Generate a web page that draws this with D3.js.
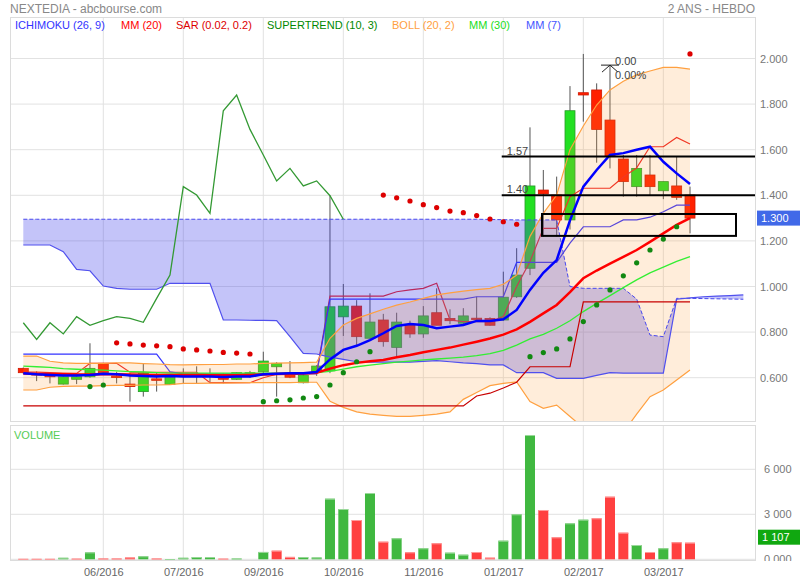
<!DOCTYPE html>
<html><head><meta charset="utf-8">
<script src="https://cdn.jsdelivr.net/npm/d3@7"></script>
<style>body{margin:0;background:#fff}svg{display:block;font-family:"Liberation Sans",Arial,sans-serif}</style>
</head><body><svg id="c" width="800" height="580"></svg>
<script>
// ---------- DATA (weekly candles, index 0..50) ----------
const tickIndex  = [6, 12, 18, 24, 30, 36, 42, 48];
const tickLabels = ["06/2016","07/2016","09/2016","10/2016","11/2016","01/2017","02/2017","03/2017"];
const priceTicks = [0.6, 0.8, 1.0, 1.2, 1.4, 1.6, 1.8, 2.0];
const volTicks   = [0, 3000, 6000];

const open  = [0.641,0.618,0.616,0.572,0.593,0.604,0.663,0.607,0.572,0.539,0.595,0.571,0.612,0.615,0.613,0.602,0.593,0.618,0.626,0.648,0.620,0.578,0.626,0.630,0.867,0.914,0.773,0.853,0.733,0.831,0.792,0.885,0.860,0.839,0.861,0.860,0.853,0.955,1.080,1.423,1.401,1.292,1.850,1.862,1.730,1.559,1.438,1.489,1.420,1.441,1.401];
const high  = [0.645,0.628,0.622,0.606,0.606,0.751,0.665,0.626,0.620,0.663,0.620,0.604,0.641,0.650,0.641,0.620,0.625,0.630,0.714,0.668,0.673,0.615,0.655,1.400,1.011,0.940,0.970,0.880,0.885,0.850,0.914,0.992,0.900,0.905,0.955,0.865,1.065,1.168,1.698,1.511,1.482,1.879,2.020,1.891,1.971,1.577,1.577,1.577,1.460,1.569,1.438];
const low   = [0.618,0.585,0.575,0.570,0.572,0.600,0.620,0.575,0.495,0.517,0.539,0.568,0.576,0.576,0.576,0.575,0.590,0.600,0.620,0.517,0.598,0.575,0.608,0.620,0.783,0.743,0.770,0.736,0.692,0.775,0.775,0.830,0.835,0.835,0.855,0.828,0.850,0.950,1.050,1.218,1.220,1.250,1.723,1.543,1.518,1.394,1.394,1.400,1.383,1.380,1.233];
const close = [0.622,0.612,0.604,0.604,0.604,0.641,0.622,0.602,0.561,0.620,0.593,0.602,0.615,0.613,0.610,0.593,0.622,0.622,0.673,0.663,0.602,0.611,0.651,0.911,0.914,0.780,0.844,0.758,0.844,0.792,0.871,0.830,0.850,0.871,0.860,0.830,0.953,1.050,1.441,1.406,1.292,1.771,1.840,1.689,1.572,1.460,1.518,1.438,1.460,1.391,1.300];

const volume = [30,30,30,100,40,460,50,50,120,200,50,20,100,150,150,40,50,0,490,575,160,150,120,4040,3353,2620,4420,1173,1400,467,733,1067,440,307,487,107,1240,3000,8287,3287,1467,2400,2640,2733,4173,1773,953,487,733,1133,1107];
const volUp  = [0,0,0,1,0,1,0,0,0,1,0,1,1,1,1,0,1,1,1,0,0,1,1,1,1,0,1,0,1,0,1,0,1,1,0,0,1,1,1,0,0,1,1,0,0,0,1,0,1,0,0];

const mm7  = [0.620,0.615,0.612,0.610,0.610,0.612,0.617,0.615,0.610,0.607,0.605,0.607,0.605,0.605,0.605,0.603,0.605,0.605,0.615,0.617,0.620,0.620,0.625,0.680,0.722,0.740,0.765,0.795,0.827,0.836,0.831,0.817,0.824,0.831,0.849,0.849,0.856,0.897,0.985,1.060,1.116,1.290,1.438,1.511,1.577,1.585,1.600,1.613,1.547,1.496,1.450];
const mm20 = [0.618,0.617,0.616,0.615,0.614,0.614,0.615,0.615,0.614,0.613,0.612,0.612,0.612,0.612,0.611,0.611,0.611,0.612,0.614,0.616,0.617,0.618,0.622,0.640,0.655,0.665,0.672,0.678,0.690,0.700,0.712,0.722,0.732,0.745,0.758,0.772,0.789,0.812,0.845,0.882,0.919,0.975,1.036,1.070,1.100,1.130,1.160,1.196,1.233,1.270,1.300];
const mm30 = [0.651,0.648,0.645,0.640,0.637,0.635,0.633,0.630,0.627,0.625,0.622,0.620,0.620,0.620,0.620,0.620,0.620,0.620,0.620,0.620,0.620,0.621,0.622,0.628,0.638,0.648,0.655,0.662,0.668,0.673,0.678,0.682,0.686,0.690,0.697,0.706,0.720,0.743,0.770,0.790,0.817,0.850,0.890,0.926,0.960,0.995,1.029,1.060,1.085,1.110,1.131];
const bollUp  = [0.695,0.695,0.672,0.665,0.663,0.663,0.663,0.665,0.665,0.662,0.660,0.657,0.656,0.657,0.658,0.658,0.660,0.660,0.663,0.664,0.665,0.666,0.668,0.773,0.831,0.860,0.880,0.900,0.918,0.932,0.948,0.963,0.972,0.980,0.986,0.992,1.010,1.050,1.220,1.321,1.401,1.600,1.704,1.796,1.862,1.900,1.928,1.945,1.961,1.961,1.953];
const bollLow = [0.546,0.546,0.558,0.562,0.563,0.563,0.565,0.566,0.566,0.568,0.568,0.570,0.575,0.575,0.576,0.576,0.577,0.578,0.578,0.578,0.578,0.580,0.580,0.497,0.470,0.450,0.440,0.435,0.430,0.430,0.435,0.440,0.450,0.505,0.535,0.565,0.575,0.582,0.495,0.466,0.480,0.430,0.380,0.350,0.340,0.360,0.440,0.517,0.546,0.590,0.634];

// Ichimoku (cloud extends 4 weeks ahead: index 0..54)
const spanA = [1.295,1.295,1.295,1.295,1.295,1.295,1.295,1.295,1.295,1.295,1.295,1.295,1.295,1.295,1.295,1.295,1.295,1.295,1.295,1.295,1.295,1.295,1.295,1.295,1.295,1.295,1.295,1.295,1.295,1.295,1.295,1.295,1.295,1.295,1.295,1.294,1.293,1.292,1.292,1.292,1.292,1.000,0.992,0.992,0.992,0.992,0.945,0.787,0.780,0.948,0.948,0.947,0.946,0.945,0.944];
const spanB = [1.182,1.182,1.182,1.153,1.075,1.069,1.002,0.992,0.988,0.988,0.988,1.014,1.014,1.014,1.014,0.853,0.853,0.852,0.851,0.850,0.780,0.707,0.704,0.690,0.680,0.670,0.668,0.668,0.668,0.668,0.672,0.675,0.670,0.665,0.662,0.656,0.656,0.622,0.622,0.622,0.597,0.597,0.597,0.610,0.622,0.620,0.620,0.620,0.620,0.944,0.950,0.955,0.958,0.960,0.963];
const tenkan = [0.625,0.625,0.622,0.620,0.619,0.663,0.663,0.663,0.624,0.624,0.624,0.624,0.624,0.624,0.578,0.578,0.578,0.578,0.600,0.615,0.620,0.620,0.622,0.958,0.958,0.958,0.958,0.958,0.977,0.985,0.992,1.014,0.853,0.846,0.846,0.846,0.868,1.000,1.110,1.255,1.255,1.394,1.431,1.431,1.431,1.480,1.520,1.613,1.613,1.654,1.625];
const kijun  = [0.703,0.703,0.703,0.703,0.703,0.703,0.703,0.703,0.703,0.703,0.703,0.626,0.617,0.617,0.617,0.617,0.617,0.617,0.617,0.617,0.617,0.617,0.617,0.945,0.945,0.945,0.945,0.945,0.945,0.945,0.945,0.945,0.945,0.945,0.955,0.955,0.955,1.106,1.106,1.106,1.106,1.190,1.262,1.262,1.262,1.292,1.292,1.304,1.328,1.357,1.357];
const chikou = [0.841,0.768,0.841,0.792,0.868,0.830,0.850,0.868,0.860,0.843,0.948,1.050,1.438,1.401,1.321,1.771,1.840,1.689,1.577,1.463,1.518,1.441,1.463,1.398,1.295];

const sar = [null,null,null,null,null,0.561,0.568,0.753,0.748,0.743,0.740,0.736,0.726,0.722,0.717,0.711,0.708,0.704,0.495,0.499,0.503,0.511,0.517,0.568,0.622,0.670,0.714,1.401,1.389,1.375,1.359,1.346,1.331,1.324,1.311,1.296,1.284,1.273,0.692,0.710,0.726,0.770,0.846,0.919,0.985,1.047,1.104,1.160,1.208,1.262,2.020];
const supertrend = [0.476,0.476,0.476,0.476,0.476,0.476,0.476,0.476,0.476,0.476,0.476,0.476,0.476,0.476,0.476,0.476,0.476,0.476,0.476,0.476,0.476,0.476,0.476,0.476,0.476,0.476,0.476,0.476,0.476,0.476,0.476,0.476,0.476,0.476,0.520,0.532,0.555,0.580,0.648,0.648,0.648,0.648,0.933,0.933,0.933,0.933,0.933,0.933,0.933,0.933,0.933];

const levels = [1.57, 1.40];
const levelLabels = ["1.57", "1.40"];
const boxRange = {i0: 38.9, i1: 53.45, top: 1.318, bottom: 1.222};
const cursorIdx = 44;

const legend = [
  {t:"ICHIMOKU (26, 9)", c:"#3333ff", x:15},
  {t:"MM (20)", c:"#ff0000", x:121},
  {t:"SAR (0.02, 0.2)", c:"#dd0000", x:176},
  {t:"SUPERTREND (10, 3)", c:"#008800", x:267},
  {t:"BOLL (20, 2)", c:"#ffa040", x:392},
  {t:"MM (30)", c:"#22dd22", x:469},
  {t:"MM (7)", c:"#4455ff", x:526}
];

// ---------- LAYOUT ----------
const svg = d3.select("#c");
const L = 10, R = 755, T = 17, B = 421, VT = 425, VB = 560;
const x  = d3.scaleLinear().domain([0, 50]).range([23.3, 690]);
const y  = d3.scaleLinear().domain([0.6, 2.0]).range([377.7, 58.5]);
const yv = d3.scaleLinear().domain([0, 6000]).range([559.3, 469.3]);

const defs = svg.append("defs");
defs.append("clipPath").attr("id","cm").append("rect").attr("x",L).attr("y",T).attr("width",R-L).attr("height",B-T);
defs.append("clipPath").attr("id","cv").append("rect").attr("x",L).attr("y",VT).attr("width",800-L).attr("height",VB-VT+1);

// title
svg.append("text").attr("x",10).attr("y",13).attr("font-size",12).attr("fill","#888").text("NEXTEDIA - abcbourse.com");
svg.append("text").attr("x",R).attr("y",13).attr("font-size",12).attr("fill","#888").attr("text-anchor","end").text("2 ANS - HEBDO");

// grids
const grid = svg.append("g").attr("stroke","#e2e2e2").attr("stroke-width",1);
priceTicks.forEach(v => grid.append("line").attr("x1",L).attr("x2",R).attr("y1",y(v)).attr("y2",y(v)));
volTicks.forEach(v => grid.append("line").attr("x1",L).attr("x2",R).attr("y1",yv(v)).attr("y2",yv(v)));
tickIndex.forEach(i => {
  grid.append("line").attr("x1",x(i)).attr("x2",x(i)).attr("y1",T).attr("y2",B);
  grid.append("line").attr("x1",x(i)).attr("x2",x(i)).attr("y1",VT).attr("y2",VB);
});
svg.append("rect").attr("x",L+0.5).attr("y",T+0.5).attr("width",R-L).attr("height",B-T).attr("fill","none").attr("stroke","#dcdcdc");
svg.append("rect").attr("x",L+0.5).attr("y",VT+0.5).attr("width",R-L).attr("height",VB-VT).attr("fill","none").attr("stroke","#dcdcdc");

// legend
legend.forEach(d => svg.append("text").attr("x",d.x).attr("y",29).attr("font-size",11).attr("fill",d.c).text(d.t));

const main = svg.append("g").attr("clip-path","url(#cm)");
const idx = d3.range(51);
const line = arr => d3.line().defined(d => d != null).x((d,i) => x(i)).y(d => y(d))(arr);

// candles
const cg = main.append("g");
idx.forEach(i => {
  const up = close[i] >= open[i];
  cg.append("line").attr("x1",x(i)).attr("x2",x(i)).attr("y1",y(high[i])).attr("y2",y(low[i])).attr("stroke","#555").attr("stroke-width",1);
  const top = y(Math.max(open[i], close[i])), bot = y(Math.min(open[i], close[i]));
  cg.append("rect").attr("x",x(i)-5).attr("y",top).attr("width",10).attr("height",Math.max(1.5, bot-top))
    .attr("fill", up ? "#22e022" : "#ff2000").attr("stroke", up ? "#2a9a2a" : "#d01800").attr("stroke-width",0.8);
});

// tenkan / kijun (under the cloud)
main.append("path").attr("d",line(tenkan)).attr("fill","none").attr("stroke","#ee2222").attr("stroke-width",1.2);
main.append("path").attr("d",line(kijun)).attr("fill","none").attr("stroke","#3333ff").attr("stroke-width",1.2);

// cloud
const cloud = d3.area().x((d,i) => x(i)).y0((d,i) => y(spanB[i])).y1(d => y(d));
main.append("path").attr("d",cloud(spanA)).attr("fill","rgba(60,60,235,0.30)");
// bollinger fill
const bollArea = d3.area().x((d,i) => x(i)).y0((d,i) => y(bollLow[i])).y1(d => y(d));
main.append("path").attr("d",bollArea(bollUp)).attr("fill","rgba(255,153,51,0.18)");
// cloud borders
main.append("path").attr("d",line(spanA)).attr("fill","none").attr("stroke","#4848ee").attr("stroke-width",1).attr("stroke-dasharray","4,2");
main.append("path").attr("d",line(spanB)).attr("fill","none").attr("stroke","#5050ee").attr("stroke-width",1.2);
// bollinger lines
main.append("path").attr("d",line(bollUp)).attr("fill","none").attr("stroke","#ffa040").attr("stroke-width",1.2);
main.append("path").attr("d",line(bollLow)).attr("fill","none").attr("stroke","#ffa040").attr("stroke-width",1.2);
// moving averages
main.append("path").attr("d",line(mm30)).attr("fill","none").attr("stroke","#33ee33").attr("stroke-width",1.3);
main.append("path").attr("d",line(mm20)).attr("fill","none").attr("stroke","#ff0000").attr("stroke-width",2.5);
main.append("path").attr("d",line(mm7)).attr("fill","none").attr("stroke","#0000ff").attr("stroke-width",2.5);
// supertrend
main.append("path").attr("d",line(supertrend)).attr("fill","none").attr("stroke","#c80000").attr("stroke-width",1.2);
// chikou
main.append("path").attr("d",line(chikou)).attr("fill","none").attr("stroke","#339933").attr("stroke-width",1.3);
// SAR dots
idx.forEach(i => {
  if (sar[i] == null) return;
  main.append("circle").attr("cx",x(i)).attr("cy",y(sar[i])).attr("r",2.6)
    .attr("fill", sar[i] > close[i] ? "#dd0000" : "#118811");
});

// annotations
levels.forEach((v,k) => {
  main.append("line").attr("x1",x(35.88)).attr("x2",R).attr("y1",y(v)).attr("y2",y(v)).attr("stroke","#000").attr("stroke-width",2);
  main.append("text").attr("x",x(35.88)+5).attr("y",y(v)-2).attr("font-size",11).attr("fill","#444").text(levelLabels[k]);
});
main.append("rect").attr("x",x(boxRange.i0)).attr("y",y(boxRange.top)).attr("width",x(boxRange.i1)-x(boxRange.i0))
  .attr("height",y(boxRange.bottom)-y(boxRange.top)).attr("fill","none").attr("stroke","#000").attr("stroke-width",2);
const cx = x(cursorIdx), cy = y(high[cursorIdx]);
main.append("line").attr("x1",cx-9).attr("x2",cx+9).attr("y1",cy).attr("y2",cy).attr("stroke","#222").attr("stroke-width",1);
main.append("path").attr("d",`M${cx-8},${cy+7}L${cx},${cy}L${cx+8},${cy+7}`).attr("fill","none").attr("stroke","#222").attr("stroke-width",1);
main.append("text").attr("x",cx+5).attr("y",cy).attr("font-size",11).attr("fill","#444").text("0.00");
main.append("text").attr("x",cx+5).attr("y",cy+14).attr("font-size",11).attr("fill","#444").text("0.00%");

// price axis
const pa = svg.append("g").attr("transform",`translate(${R},0)`)
  .call(d3.axisRight(y).tickValues(priceTicks).tickSize(0).tickPadding(5).tickFormat(d3.format(".3f")));
pa.select(".domain").remove();
pa.selectAll("text").attr("font-size",11).attr("fill","#777").attr("font-family","Liberation Sans, Arial, sans-serif");
svg.append("rect").attr("x",757).attr("y",y(close[50])-7.5).attr("width",43).attr("height",15).attr("fill","#4169e8");
svg.append("text").attr("x",761).attr("y",y(close[50])+4).attr("font-size",11).attr("fill","#fff").text(d3.format(".3f")(close[50]));

// volume
const vg = svg.append("g").attr("clip-path","url(#cv)");
idx.forEach(i => {
  if (volume[i] <= 0) return;
  const c = volUp[i] ? "#40b840" : "#ff4040";
  const hl = volUp[i] ? "#9ad89a" : "#ff9a9a";
  vg.append("rect").attr("x",x(i)-5).attr("y",yv(volume[i])).attr("width",10).attr("height",yv(0)-yv(volume[i])).attr("fill",c);
  vg.append("rect").attr("x",x(i)-5).attr("y",yv(volume[i])).attr("width",10).attr("height",1).attr("fill",hl);
});
svg.append("text").attr("x",14).attr("y",439).attr("font-size",11).attr("fill","#55cc55").text("VOLUME");
const va = vg.append("g").attr("transform",`translate(${R},0)`)
  .call(d3.axisRight(yv).tickValues(volTicks).tickSize(0).tickPadding(9)
    .tickFormat(v => v === 0 ? "0.000" : d3.format(",")(v).replace(",", " ")));
va.select(".domain").remove();
va.selectAll("text").attr("font-size",11).attr("fill","#777").attr("font-family","Liberation Sans, Arial, sans-serif");
const lv = volume[50];
svg.append("rect").attr("x",758).attr("y",yv(lv)-13).attr("width",42).attr("height",15).attr("fill","#10a810");
svg.append("text").attr("x",762).attr("y",yv(lv)-1.5).attr("font-size",11).attr("fill","#fff").text(d3.format(",")(lv).replace(","," "));

// x axis
const xa = svg.append("g").attr("transform",`translate(0,${VB})`)
  .call(d3.axisBottom(x).tickValues(tickIndex).tickSize(0).tickPadding(8).tickFormat((d,k) => tickLabels[k]));
xa.select(".domain").remove();
xa.selectAll("text").attr("font-size",11).attr("fill","#666").attr("font-family","Liberation Sans, Arial, sans-serif");
</script></body></html>
